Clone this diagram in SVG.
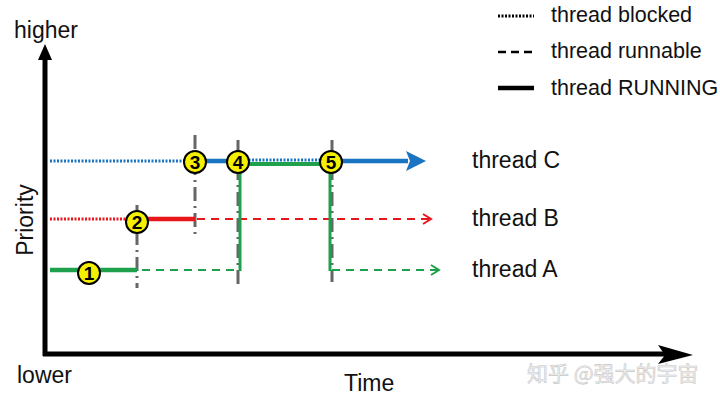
<svg xmlns="http://www.w3.org/2000/svg" width="720" height="402" viewBox="0 0 720 402">
<defs>
<style>
text{font-family:"Liberation Sans",Arial,sans-serif;fill:#111}
.lbl{font-size:23px}
.leg{font-size:21.5px}
.num{font-size:19px;font-weight:bold;text-anchor:middle;fill:#000}
.badge{fill:#f4f000;stroke:#000;stroke-width:2}
.dot{stroke-width:3;stroke-dasharray:2 1.5;fill:none}
.dash{stroke-width:2;stroke-dasharray:8 6;fill:none}
.run{stroke-width:4.5;fill:none}
.grid{stroke:#666;stroke-width:3;stroke-dasharray:14 5 2 5;fill:none}
.g{stroke:#1fa04c}.r{stroke:#e8171c}.b{stroke:#1a74c2}
</style>
<marker id="openG" markerWidth="12" markerHeight="12" refX="10" refY="6" orient="auto" markerUnits="userSpaceOnUse"><path d="M2,1 L10,6 L2,11" fill="none" stroke="#1fa04c" stroke-width="2"/></marker>
<marker id="openR" markerWidth="12" markerHeight="12" refX="10" refY="6" orient="auto" markerUnits="userSpaceOnUse"><path d="M2,1 L10,6 L2,11" fill="none" stroke="#e8171c" stroke-width="2"/></marker>
</defs>
<rect width="720" height="402" fill="#fff"/>
<g id="axes">
<line x1="45" y1="356" x2="45" y2="56" stroke="#000" stroke-width="5"/>
<path d="M45,44 L38,60 L52,60 Z" fill="#000"/>
<line x1="43" y1="354" x2="665" y2="354" stroke="#000" stroke-width="5"/>
<path d="M693,355 L658,345 L665,355 L658,364 Z" fill="#000"/>
<text class="lbl" x="14" y="38">higher</text>
<text class="lbl" x="17" y="383">lower</text>
<text class="lbl" x="344" y="391">Time</text>
<text class="lbl" transform="translate(33,220) rotate(-90)" text-anchor="middle">Priority</text>
</g>
<g id="legend">
<line class="dot" x1="498" y1="16" x2="534" y2="16" stroke="#000" stroke-width="2.5"/>
<line x1="498" y1="52" x2="534" y2="52" stroke="#000" stroke-width="2.5" stroke-dasharray="8 5"/>
<line x1="498" y1="88" x2="534" y2="88" stroke="#000" stroke-width="4.5"/>
<text class="leg" x="551" y="22">thread blocked</text>
<text class="leg" x="551" y="58">thread runnable</text>
<text class="leg" x="551" y="95">thread RUNNING</text>
</g>
<g id="connectors">
<line class="grid" x1="137" y1="205" x2="137" y2="288"/>
<line class="grid" x1="195" y1="135" x2="195" y2="236"/>
<line class="grid" x1="238" y1="140" x2="238" y2="286"/>
<line class="grid" x1="332" y1="140" x2="332" y2="282"/>
<!-- thread C -->
<line class="dot b" x1="50" y1="161" x2="194" y2="161"/>
<line class="run b" x1="194" y1="161" x2="238" y2="161"/>
<line class="dot b" x1="238" y1="160" x2="330" y2="160"/>
<line class="run b" x1="330" y1="161" x2="408" y2="161"/>
<path d="M426,161 L406,151 L410,161 L406,171 Z" fill="#1a74c2"/>
<!-- thread B -->
<line class="dot r" x1="50" y1="219" x2="137" y2="219"/>
<line class="run r" x1="137" y1="219" x2="195" y2="219"/>
<line class="dash r" x1="197" y1="219" x2="431" y2="219" marker-end="url(#openR)"/>
<!-- thread A -->
<line class="run g" x1="50" y1="270" x2="137" y2="270"/>
<line class="dash g" x1="142" y1="270" x2="237" y2="270"/>
<line class="g" x1="240" y1="271" x2="240" y2="162" stroke-width="3"/>
<line class="g" x1="240" y1="164" x2="330" y2="164" stroke-width="4"/>
<line class="g" x1="330" y1="162" x2="330" y2="271" stroke-width="3"/>
<line class="dash g" x1="332" y1="270" x2="439" y2="270" marker-end="url(#openG)"/>
</g>
<g id="labels">
<text class="lbl" x="472" y="168">thread C</text>
<text class="lbl" x="472" y="226">thread B</text>
<text class="lbl" x="472" y="277">thread A</text>
</g>
<g id="n1"><circle class="badge" cx="89" cy="273" r="11"/><text class="num" x="89" y="280">1</text></g>
<g id="n2"><circle class="badge" cx="137" cy="222" r="11"/><text class="num" x="137" y="229">2</text></g>
<g id="n3"><circle class="badge" cx="195" cy="162" r="11"/><text class="num" x="195" y="169">3</text></g>
<g id="n4"><circle class="badge" cx="238" cy="162" r="11"/><text class="num" x="238" y="169">4</text></g>
<g id="n5"><circle class="badge" cx="331" cy="162" r="11"/><text class="num" x="331" y="169">5</text></g>
<g id="watermark">
<text x="527" y="381" style="font-family:'Noto Sans CJK SC',sans-serif;font-size:21px;fill:#f2f2f2;stroke:#c8c8c8;stroke-width:0.6">知乎 @强大的宇宙</text>
</g>
</svg>
